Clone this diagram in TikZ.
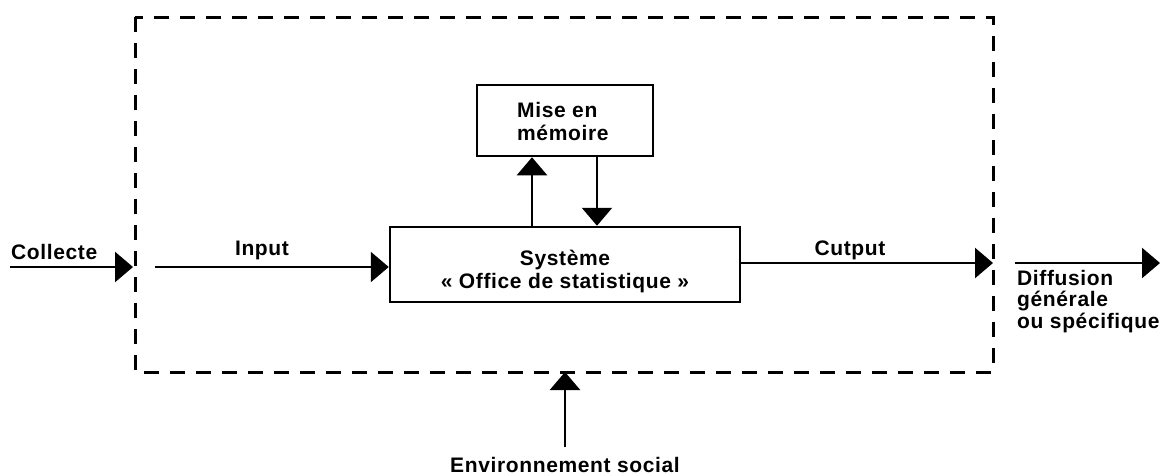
\documentclass[tikz,border=0pt]{standalone}
\usepackage{fontspec}
\setmainfont{Liberation Sans}[LetterSpace=3]
\usetikzlibrary{arrows.meta}
\begin{document}
\begin{tikzpicture}[x=1pt,y=-1pt,
  every node/.style={font=\bfseries\fontsize{21}{23}\selectfont, inner sep=0pt},
  box/.style={draw, line width=2.5pt},
  flow/.style={line width=2.5pt, -{Triangle[length=18pt,width=30pt]}},
  lbl/.style={anchor=base},
  frame/.style={line width=3pt, dash pattern=on 15pt off 11pt}]
\useasboundingbox (0,0) rectangle (1163,475);
\draw[frame] (135,17) rectangle (993,372);
\node[box, minimum width=350pt, minimum height=75pt] (sys) at (565,264.5) {};
\node[lbl] at (565,265) {Système};
\node[lbl] at (565,288) {« Office de statistique »};
\node[box, minimum width=176pt, minimum height=71pt] (mem) at (565,120.5) {};
\node[anchor=base west] (m1) at (517,117) {Mise en};
\node[anchor=base west] (m2) at (517,140) {mémoire};
% collecte
\coordinate (cS) at (10,267);
\coordinate (cE) at (133,267);
\draw[flow] (cS) -- (cE);
\node[anchor=base west] (coll) at (11,259) {Collecte};
% input
\coordinate (iS) at (155,267);
\draw[flow] (iS) -- (iS -| sys.west);
\node[lbl] (inp) at (262,255) {Input};
% memory arrows
\draw[flow] (532,0 |- sys.north) coordinate (u1) -- (u1 |- mem.south);
\draw[flow] (597,0 |- mem.south) coordinate (d1) -- (d1 |- sys.north);
% output
\coordinate (oE) at (993,263);
\draw[flow] (oE -| sys.east) -- (oE);
\node[lbl] (outp) at (850,255) {Cutput};
% diffusion
\coordinate (dS) at (1015,263);
\coordinate (dE) at (1160,263);
\draw[flow] (dS) -- (dE);
\node[anchor=base west] (dif1) at (1017,285) {Diffusion};
\node[anchor=base west] (dif2) at (1017,306) {générale};
\node[anchor=base west] (dif3) at (1017,328) {ou spécifique};
% environment
\coordinate (eS) at (565,447);
\coordinate (eE) at (565,372);
\draw[flow] (eS) -- (eE);
\node[lbl] (env) at (565,472) {Environnement social};
\end{tikzpicture}
\end{document}
